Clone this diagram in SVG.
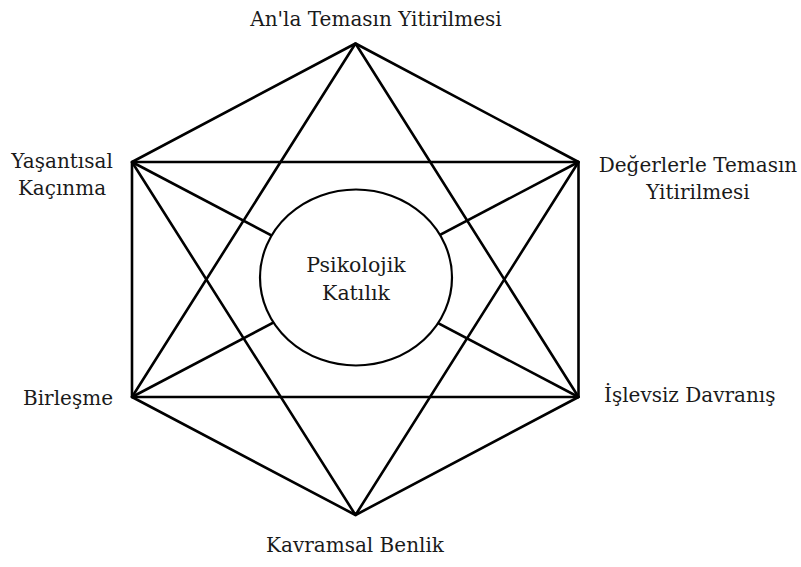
<svg xmlns="http://www.w3.org/2000/svg" width="801" height="567" viewBox="0 0 801 567">
<style>
text{font-family:'DejaVu Serif',serif;font-size:20px;fill:#1a1a1a}
.m{text-anchor:middle}
.c{font-size:20.5px}
.l{stroke:#000;stroke-width:2.6;fill:none;stroke-linecap:round;stroke-linejoin:round}
</style>
<rect width="801" height="567" fill="#fff"/>
<g id="connectors" class="l">
<polygon points="355.5,43.5 578.5,162 578.5,397 355.5,515 132,397 132,162"/>
<polygon points="355.5,43.5 578.5,397 132,397"/>
<polygon points="355.5,515 132,162 578.5,162"/>
<line x1="132" y1="162" x2="578.5" y2="397"/>
<line x1="578.5" y1="162" x2="132" y2="397"/>
</g>
<g id="center">
<ellipse cx="356" cy="277.5" rx="96" ry="88" fill="#fff" stroke="#000" stroke-width="2.2"/>
<text class="m c" x="356" y="272">Psikolojik</text>
<text class="m c" x="356" y="300">Katılık</text>
</g>
<g id="top"><text class="m" x="376" y="26">An'la Temasın Yitirilmesi</text></g>
<g id="upper-right"><text class="m" x="698" y="172">Değerlerle Temasın</text><text class="m" x="698" y="199">Yitirilmesi</text></g>
<g id="lower-right"><text x="604" y="402">İşlevsiz Davranış</text></g>
<g id="bottom"><text class="m" x="355" y="552">Kavramsal Benlik</text></g>
<g id="lower-left"><text class="m" x="68" y="405">Birleşme</text></g>
<g id="upper-left"><text class="m" x="62" y="168">Yaşantısal</text><text class="m" x="62" y="195">Kaçınma</text></g>
</svg>
